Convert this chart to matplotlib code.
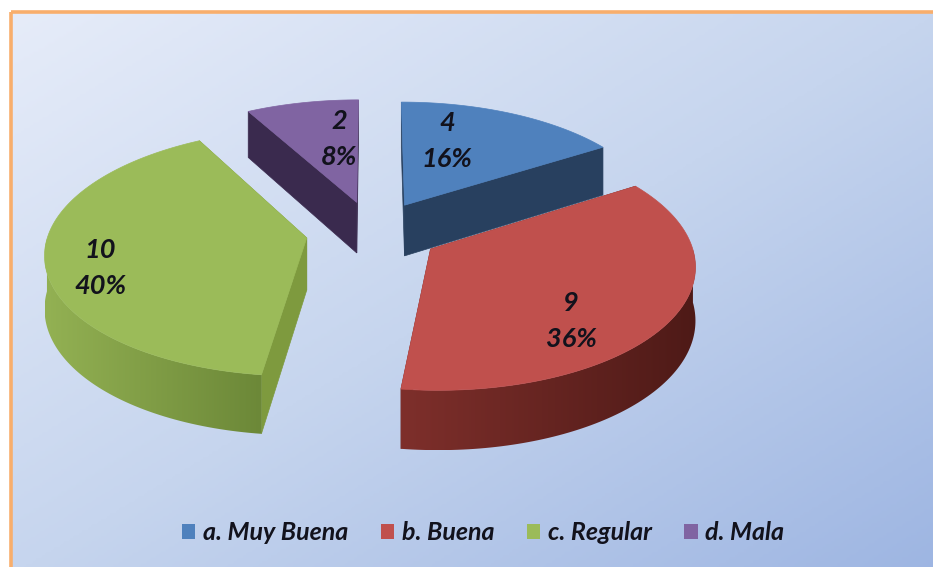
import numpy as np
import matplotlib
matplotlib.use("Agg")
import matplotlib.pyplot as plt
from matplotlib.patches import Polygon, Rectangle, Patch
from matplotlib.colors import LinearSegmentedColormap

# ---- data ----
categories = ["a. Muy Buena", "b. Buena", "c. Regular", "d. Mala"]
values = [4, 9, 10, 2]
percents = ["16%", "36%", "40%", "8%"]

# ---- styles ----
top_colors = ["#4F81BD", "#C0504D", "#9BBB59", "#8064A2"]
cut_colors = ["#28405F", "#6B2522", "#7E9A3E", "#3A2A4E"]
wall_left = ["#28405F", "#7E2F2B", "#93B153", "#3A2A4E"]
wall_right = ["#1F3350", "#4E1A17", "#6C8838", "#3A2A4E"]

R, K, P, EXPLODE, DEPTH = 258.0, 0.468, 0.115, 0.26, 52.0
X0, Y0 = 373.0, 232.0
label_pos = [(447, 141), (571, 321), (100, 268), (339, 139)]

plt.rcParams["font.family"] = ["Lato", "DejaVu Sans"]
fig = plt.figure(figsize=(9.33, 5.67), dpi=100, facecolor="white")
ax = fig.add_axes([0, 0, 1, 1])
ax.set_xlim(0, 933)
ax.set_ylim(567, 0)
ax.axis("off")

# background panel with diagonal gradient
bg_cmap = LinearSegmentedColormap.from_list("bg", ["#E6ECF9", "#C6D5EE", "#9DB5E2"])
yy, xx = np.mgrid[0:1:200j, 0:1:300j]
panel = Rectangle((11, 12), 940, 570, facecolor="none", edgecolor="#F8AE6C", linewidth=2.6, zorder=3)
ax.imshow(0.5 * xx + 0.5 * yy, extent=(11, 940, 575, 12), cmap=bg_cmap, vmin=0, vmax=1,
          aspect="auto", zorder=1)
ax.add_patch(panel)
ax.set_xlim(0, 933)
ax.set_ylim(567, 0)


def project(u, v, dz=0.0):
    s = 1.0 / (1.0 - P * v)
    return X0 + R * u * s, Y0 + R * K * v * s + dz * s


total = sum(values)
edges = np.cumsum([0] + values) / total * 2 * np.pi
order = [3, 0, 2, 1]  # back to front
z = 5
for i in order:
    a0, a1 = edges[i], edges[i + 1]
    mid = 0.5 * (a0 + a1)
    du, dv = EXPLODE * np.sin(mid), -EXPLODE * np.cos(mid)
    th = np.linspace(a0, a1, 120)
    us, vs = du + np.sin(th), dv - np.cos(th)

    ax_pt = project(du, dv)
    ax_low = project(du, dv, DEPTH)
    top_rim = np.array(project(us, vs)).T
    low_rim = np.array(project(us, vs, DEPTH)).T
    top_poly = np.vstack([ax_pt, top_rim])

    # cut faces
    for rim_t, rim_l in ((top_rim[0], low_rim[0]), (top_rim[-1], low_rim[-1])):
        ax.add_patch(Polygon([ax_pt, rim_t, rim_l, ax_low], closed=True,
                             facecolor=cut_colors[i], edgecolor=cut_colors[i], lw=0.5, zorder=z))
    # outer wall with horizontal gradient (front half of the rim only)
    front = np.sin(np.pi / 2 - th) < 0.0
    if front.any():
        wall = np.vstack([top_rim[front], low_rim[front][::-1]])
        cm = LinearSegmentedColormap.from_list("w", [wall_left[i], wall_right[i]])
        x0, x1 = wall[:, 0].min(), wall[:, 0].max()
        y0, y1 = wall[:, 1].min(), wall[:, 1].max()
        im = ax.imshow(np.linspace(0, 1, 256)[None, :], extent=(x0, x1, y1, y0), cmap=cm,
                       aspect="auto", zorder=z + 0.1)
        clip = Polygon(wall, closed=True, transform=ax.transData, facecolor="none", edgecolor="none")
        ax.add_patch(clip)
        im.set_clip_path(clip)
    # top surface
    ax.add_patch(Polygon(top_poly, closed=True, facecolor=top_colors[i],
                         edgecolor=top_colors[i], lw=0.5, zorder=z + 0.2))
    z += 1

ax.set_xlim(0, 933)
ax.set_ylim(567, 0)

# data labels
for (x, y), val, pct in zip(label_pos, values, percents):
    ax.text(x, y - 18, str(val), fontsize=19.5, fontstyle="italic", fontweight="bold",
            color="#12121C", ha="center", va="center", zorder=20)
    ax.text(x, y + 18, pct, fontsize=19.5, fontstyle="italic", fontweight="bold",
            color="#12121C", ha="center", va="center", zorder=20)

# legend
handles = [Patch(facecolor=c, edgecolor="none", label=l) for c, l in zip(top_colors, categories)]
leg = ax.legend(handles=handles, loc="center", bbox_to_anchor=(483 / 933, 1 - 533 / 567),
                ncol=4, frameon=False, handlelength=0.54, handleheight=0.54, handletextpad=0.3,
                columnspacing=1.3, borderpad=0, borderaxespad=0,
                prop={"family": "Lato", "size": 18, "style": "italic", "weight": "bold"})
leg.set_zorder(20)
for t in leg.get_texts():
    t.set_color("#12121C")

fig.savefig("out.png", dpi=100, facecolor="white")
